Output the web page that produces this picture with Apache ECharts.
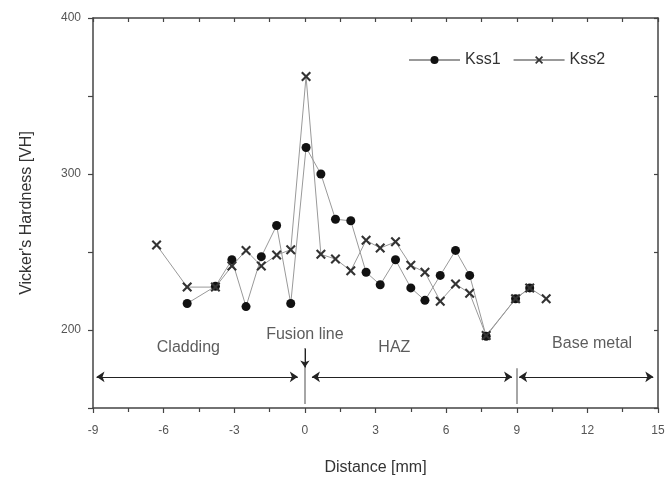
<!DOCTYPE html>
<html>
<head>
<meta charset="UTF-8">
<title>Vickers hardness profile</title>
<script src="https://cdn.jsdelivr.net/npm/echarts@6/dist/echarts.min.js"></script>
<style>
    html,body
    {
        height:100%;
        margin:0;
        width:100%;
        background:#fff;
    }
</style>
</head>
<body>
<div id="chart" style="width:669px;height:487px"></div>
<script>
// distance [mm] and hardness [VH]
var kss1X = [-5.0, -3.8, -3.1, -2.5, -1.85, -1.2, -0.6, 0.05, 0.68, 1.3, 1.95, 2.6, 3.2, 3.85, 4.5, 5.1, 5.75, 6.4, 7.0, 7.7, 8.95, 9.55];
var kss1Y = [217, 228, 245, 215, 247, 267, 217, 317, 300, 271, 270, 237, 229, 245, 227, 219, 235, 251, 235, 196, 220, 227];

var kss2X = [-6.3, -5.0, -3.8, -3.1, -2.5, -1.85, -1.2, -0.6, 0.05, 0.68, 1.3, 1.95, 2.6, 3.2, 3.85, 4.5, 5.1, 5.75, 6.4, 7.0, 7.7, 8.95, 9.55, 10.25];
var kss2Y = [254.5, 227.5, 227.5, 241, 251, 241, 248, 251.5, 362.5, 248.5, 245.5, 238, 257.5, 252.5, 256.5, 241.5, 237, 218.5, 229.5, 223.5, 196.5, 220, 227, 220];

// region labels [x, y, text]
var regionLabels = [[-4.95, 189, 'Cladding'], [0, 197, 'Fusion line'], [3.8, 189, 'HAZ'], [12.2, 191, 'Base metal']];
// double-headed region arrows [x1, x2] at y = arrowY
var regionArrows = [[-8.85, -0.3], [0.3, 8.8], [9.1, 14.8]];
var arrowY = 170;
// boundary markers [x, yTop]
var boundaries = [[0, 188.5], [9, 175.5]];

function zip(xs, ys) {
    var out = [];
    for (var i = 0; i < xs.length; i++) out.push([xs[i], ys[i]]);
    return out;
}

var font = 'Liberation Sans';
var axisColor = '#444';
var textColor = '#333';

var marks = [];
regionArrows.forEach(function (a) {
    marks.push([{coord: [a[0], arrowY], symbol: 'arrow'}, {coord: [a[1], arrowY], symbol: 'arrow'}]);
});
boundaries.forEach(function (b) {
    marks.push([{coord: [b[0], 152.5], symbol: 'none', lineStyle: {color: '#888', width: 1.5}},
                {coord: [b[0], b[1]], symbol: 'none'}]);
});
// small down arrow on the fusion line
marks.push([{coord: [0, 188], symbol: 'none'}, {coord: [0, 176], symbol: 'arrow', symbolSize: 7}]);

var chart = echarts.init(document.getElementById('chart'));
chart.setOption({
    animation: false,
    textStyle: {fontFamily: font},
    grid: {left: 93, right: 11, top: 18, bottom: 79},
    legend: {
        data: ['Kss1', 'Kss2'],
        left: 403,
        top: 47,
        itemWidth: 51,
        itemHeight: 10,
        itemGap: 12,
        textStyle: {fontSize: 16, color: textColor, fontFamily: font}
    },
    xAxis: [{
        type: 'value', min: -9, max: 15, interval: 3,
        name: 'Distance [mm]', nameLocation: 'middle', nameGap: 52,
        nameTextStyle: {fontSize: 16, color: textColor},
        axisLine: {onZero: false, lineStyle: {color: axisColor, width: 1.5}},
        axisTick: {length: 5, lineStyle: {color: axisColor, width: 1.2}},
        minorTick: {show: true, splitNumber: 2, length: 4, lineStyle: {color: axisColor, width: 1.2}},
        axisLabel: {fontSize: 12, color: '#555', margin: 17},
        splitLine: {show: false}
    }, {
        type: 'value', min: -9, max: 15, interval: 3, position: 'top',
        axisLine: {onZero: false, lineStyle: {color: axisColor, width: 1.5}},
        axisTick: {inside: true, length: 4, lineStyle: {color: axisColor, width: 1.2}},
        minorTick: {show: true, splitNumber: 2, length: 4, lineStyle: {color: axisColor, width: 1.2}},
        axisLabel: {show: false},
        splitLine: {show: false}
    }],
    yAxis: [{
        type: 'value', min: 150, max: 400, interval: 50,
        name: "Vicker's Hardness [VH]", nameLocation: 'middle', nameGap: 58,
        nameTextStyle: {fontSize: 16, color: textColor},
        axisLine: {onZero: false, lineStyle: {color: axisColor, width: 1.5}},
        axisTick: {length: 5, lineStyle: {color: axisColor, width: 1.2}},
        axisLabel: {
            fontSize: 12, color: '#555', margin: 12,
            formatter: function (v) { return v % 100 === 0 ? v : ''; }
        },
        splitLine: {show: false}
    }, {
        type: 'value', min: 150, max: 400, interval: 50, position: 'right',
        axisLine: {onZero: false, lineStyle: {color: axisColor, width: 1.5}},
        axisTick: {inside: true, length: 4, lineStyle: {color: axisColor, width: 1.2}},
        axisLabel: {show: false},
        splitLine: {show: false}
    }],
    series: [{
        name: 'Kss1',
        type: 'line',
        data: zip(kss1X, kss1Y),
        symbol: 'circle',
        symbolSize: 9,
        itemStyle: {color: '#111'},
        lineStyle: {color: '#999', width: 1}
    }, {
        name: 'Kss2',
        type: 'line',
        data: zip(kss2X, kss2Y),
        symbol: 'path://M0,1.5L1.5,0L5,3.5L8.5,0L10,1.5L6.5,5L10,8.5L8.5,10L5,6.5L1.5,10L0,8.5L3.5,5Z',
        symbolSize: 10,
        itemStyle: {color: '#333'},
        lineStyle: {color: '#999', width: 1}
    }, {
        name: 'annotations',
        type: 'scatter',
        silent: true,
        symbolSize: 0,
        data: regionLabels.map(function (r) { return {value: [r[0], r[1]], name: r[2]}; }),
        label: {
            show: true,
            position: 'inside',
            formatter: function (p) { return p.name; },
            fontSize: 16,
            color: textColor,
            fontFamily: font
        },
        markLine: {
            silent: true,
            symbolSize: 8,
            label: {show: false},
            lineStyle: {color: '#222', width: 1, type: 'solid'},
            data: marks
        }
    }]
});
</script>
</body>
</html>
